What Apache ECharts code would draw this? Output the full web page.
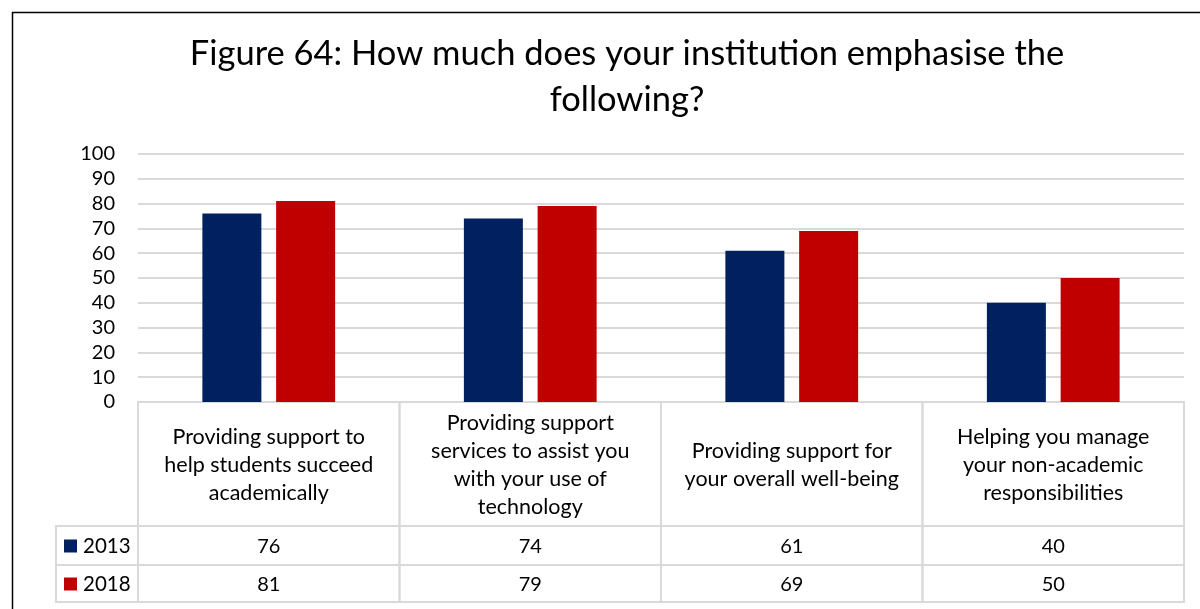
<!DOCTYPE html>
<html>
<head>
<meta charset="utf-8">
<script src="https://cdn.jsdelivr.net/npm/echarts@6/dist/echarts.min.js"></script>
<style>
  html, body { margin: 0; padding: 0; background: #fff; }
  #chart { width: 1200px; height: 609px; }
</style>
</head>
<body>
<div id="chart"></div>
<script>
// Survey categories (line breaks as set in the table header cells)
const categories = [
  'Providing support to\nhelp students succeed\nacademically',
  'Providing support\nservices to assist you\nwith your use of\ntechnology',
  'Providing support for\nyour overall well-being',
  'Helping you manage\nyour non-academic\nresponsibilities'
];
const seriesNames = ['2013', '2018'];
const values2013 = [76, 74, 61, 40];
const values2018 = [81, 79, 69, 50];
const yTicks = [0, 10, 20, 30, 40, 50, 60, 70, 80, 90, 100];

const COLORS = ['#002060', '#C00000'];
const FONT = 'Lato, "Noto Sans", sans-serif';
const LINE = '#d9d9d9';

// Table rows below the plot (in table-axis units = px from the table top)
const ROW_CAT_END = 124;
const ROW_A_END = 163;
const ROW_B_END = 200;
const HEADER_W = 82;

const chart = echarts.init(document.getElementById('chart'), null, { renderer: 'canvas' });

const tableData = categories.map((c, i) => [i, values2013[i], values2018[i]]);

function renderTable(params, api) {
  const i = api.value(0);
  const bandW = api.size([1, 0])[0];
  const top = api.coord([i, 0]);
  const x0 = top[0] - bandW / 2;
  const y0 = top[1];
  const yA = api.coord([i, ROW_CAT_END])[1];
  const yB = api.coord([i, ROW_A_END])[1];
  const yC = api.coord([i, ROW_B_END])[1];
  const cellStyle = { fill: 'none', stroke: LINE, lineWidth: 2 };
  const txt = { fill: '#000', align: 'center', verticalAlign: 'middle' };
  const children = [
    { type: 'rect', shape: { x: x0, y: y0, width: bandW, height: yA - y0 }, style: cellStyle },
    { type: 'rect', shape: { x: x0, y: yA, width: bandW, height: yB - yA }, style: cellStyle },
    { type: 'rect', shape: { x: x0, y: yB, width: bandW, height: yC - yB }, style: cellStyle },
    { type: 'text', style: Object.assign({ x: top[0], y: (y0 + yA) / 2 + 1, text: categories[i], lineHeight: 28, font: '21.5px ' + FONT }, txt) },
    { type: 'text', style: Object.assign({ x: top[0], y: (yA + yB) / 2 + 1, text: String(api.value(1)), font: '20px ' + FONT }, txt) },
    { type: 'text', style: Object.assign({ x: top[0], y: (yB + yC) / 2 + 1, text: String(api.value(2)), font: '20px ' + FONT }, txt) }
  ];
  if (i === 0) {
    // Row headers with colour keys
    const hx = x0 - HEADER_W;
    [[yA, yB], [yB, yC]].forEach((r, k) => {
      children.push({ type: 'rect', shape: { x: hx, y: r[0], width: HEADER_W, height: r[1] - r[0] }, style: cellStyle });
      const cy = (r[0] + r[1]) / 2;
      children.push({ type: 'rect', shape: { x: hx + 8, y: cy - 6, width: 13, height: 13 }, style: { fill: COLORS[k] } });
      children.push({ type: 'text', style: { x: hx + 27, y: cy + 1, text: seriesNames[k], fill: '#000', font: '20.5px ' + FONT, align: 'left', verticalAlign: 'middle' } });
    });
  }
  return { type: 'group', children };
}

chart.setOption({
  animation: false,
  backgroundColor: '#fff',
  graphic: [
    { type: 'rect', left: 10, top: 10, z: -10, silent: true,
      shape: { width: 1300, height: 700 }, style: { fill: 'none', stroke: '#000', lineWidth: 1.5 } },
    { type: 'text', x: 627, y: 55, z: 10,
      style: { text: 'Figure 64: How much does your institution emphasise the\nfollowing?', align: 'center', verticalAlign: 'middle',
               font: '34.5px ' + FONT, lineHeight: 46, fill: '#000', y: 22 } }
  ],
  grid: [
    { left: 138, right: 16, top: 154, height: 248 },
    { left: 138, right: 16, top: 402, height: 200 }
  ],
  xAxis: [
    { type: 'category', gridIndex: 0, data: categories, axisLine: { show: false }, axisTick: { show: false }, axisLabel: { show: false } },
    { type: 'category', gridIndex: 1, data: categories, show: false }
  ],
  yAxis: [
    { type: 'value', gridIndex: 0, min: yTicks[0], max: yTicks[yTicks.length - 1], interval: 10,
      axisLine: { show: false }, axisTick: { show: false },
      axisLabel: { color: '#000', fontSize: 20, fontFamily: FONT, margin: 23 },
      splitLine: { lineStyle: { color: LINE, width: 2 } } },
    { type: 'value', gridIndex: 1, min: 0, max: ROW_B_END, inverse: true, show: false }
  ],
  series: [
    { name: seriesNames[0], type: 'bar', xAxisIndex: 0, yAxisIndex: 0, data: values2013,
      barWidth: 59, barGap: '25%', itemStyle: { color: COLORS[0] } },
    { name: seriesNames[1], type: 'bar', xAxisIndex: 0, yAxisIndex: 0, data: values2018,
      barWidth: 59, barGap: '25%', itemStyle: { color: COLORS[1] } },
    { type: 'custom', xAxisIndex: 1, yAxisIndex: 1, data: tableData, renderItem: renderTable, silent: true }
  ]
});
</script>
</body>
</html>
